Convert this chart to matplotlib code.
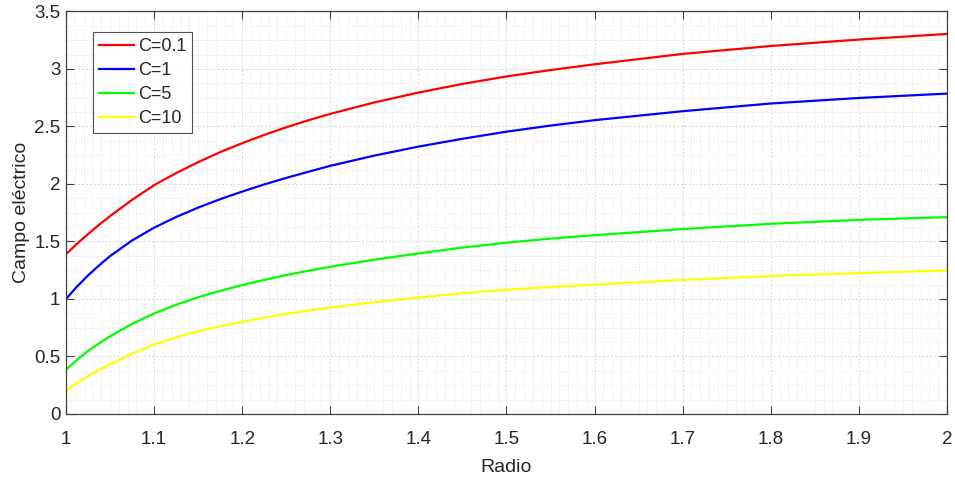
import matplotlib
matplotlib.use("Agg")
import matplotlib.pyplot as plt
from matplotlib.ticker import MultipleLocator

plt.rcParams["font.family"] = ["Liberation Sans", "DejaVu Sans"]

radio = [1.0, 1.0125, 1.025, 1.0375, 1.05, 1.075, 1.1, 1.125, 1.15, 1.175, 1.2,
         1.225, 1.25, 1.275, 1.3, 1.35, 1.4, 1.45, 1.5, 1.55, 1.6, 1.7, 1.8, 1.9, 2.0]

campo_c01 = [1.390, 1.480, 1.565, 1.645, 1.721, 1.862, 1.990, 2.095, 2.190, 2.277, 2.355,
             2.427, 2.493, 2.554, 2.610, 2.709, 2.795, 2.870, 2.935, 2.991, 3.041,
             3.131, 3.200, 3.256, 3.305]
campo_c1 = [1.000, 1.108, 1.205, 1.292, 1.373, 1.509, 1.620, 1.713, 1.795, 1.868, 1.934,
            1.996, 2.053, 2.106, 2.158, 2.247, 2.325, 2.393, 2.455, 2.508, 2.555,
            2.633, 2.700, 2.748, 2.786]
campo_c5 = [0.385, 0.470, 0.548, 0.614, 0.676, 0.783, 0.874, 0.950, 1.015, 1.071, 1.121,
            1.166, 1.208, 1.246, 1.280, 1.342, 1.396, 1.447, 1.490, 1.525, 1.555,
            1.608, 1.654, 1.688, 1.712]
campo_c10 = [0.203, 0.269, 0.329, 0.383, 0.434, 0.524, 0.605, 0.668, 0.720, 0.764, 0.802,
             0.838, 0.870, 0.899, 0.926, 0.972, 1.013, 1.050, 1.080, 1.104, 1.125,
             1.166, 1.200, 1.225, 1.248]

series = [
    ("C=0.1", campo_c01, "#ff0000"),
    ("C=1", campo_c1, "#0000ff"),
    ("C=5", campo_c5, "#00ff00"),
    ("C=10", campo_c10, "#ffff00"),
]

xticks = [1.0, 1.1, 1.2, 1.3, 1.4, 1.5, 1.6, 1.7, 1.8, 1.9, 2.0]
xtick_labels = ["1", "1.1", "1.2", "1.3", "1.4", "1.5", "1.6", "1.7", "1.8", "1.9", "2"]
yticks = [0, 0.5, 1, 1.5, 2, 2.5, 3, 3.5]
ytick_labels = ["0", "0.5", "1", "1.5", "2", "2.5", "3", "3.5"]

txt = "#262626"

fig = plt.figure(figsize=(9.55, 4.79), dpi=100)
ax = fig.add_axes([0.0691, 0.1357, 0.9225, 0.8403])

for label, vals, color in series:
    ax.plot(radio, vals, color=color, linewidth=1.6, label=label)

ax.set_xlim(1, 2)
ax.set_ylim(0, 3.5)
ax.set_xticks(xticks)
ax.set_xticklabels(xtick_labels)
ax.set_yticks(yticks)
ax.set_yticklabels(ytick_labels)
ax.xaxis.set_minor_locator(MultipleLocator(0.01))
ax.yaxis.set_minor_locator(MultipleLocator(0.125))

# MATLAB-like grid: major and minor lines, both faint and dotted
ax.grid(True, which="major", color="#d6d6d6", linewidth=0.7, linestyle=(0, (2, 2)))
ax.grid(True, which="minor", color="#e3e3e3", linewidth=0.6, linestyle=(0, (1.5, 2)))
ax.set_axisbelow(True)

ax.tick_params(which="major", direction="in", length=6, width=0.8, colors="#404040",
               labelcolor=txt, labelsize=13.5, top=True, right=True)
ax.tick_params(axis="x", which="major", pad=12)
ax.tick_params(axis="y", which="major", pad=4)
ax.tick_params(which="minor", length=0, top=True, right=True)
for s in ax.spines.values():
    s.set_color("#404040")
    s.set_linewidth(0.9)

ax.set_xlabel("Radio", fontsize=14, color=txt, labelpad=8)
ax.set_ylabel("Campo eléctrico", fontsize=14, color=txt, labelpad=3)

leg = ax.legend(loc="upper left", bbox_to_anchor=(0.0306, 0.949), fontsize=13,
                frameon=True, fancybox=False, handlelength=1.95, handletextpad=0.18,
                labelspacing=0.38, borderpad=0.35, borderaxespad=0)
leg.get_frame().set_edgecolor("#262626")
leg.get_frame().set_linewidth(0.8)
for t in leg.get_texts():
    t.set_color(txt)

fig.savefig("out.png", dpi=100)
